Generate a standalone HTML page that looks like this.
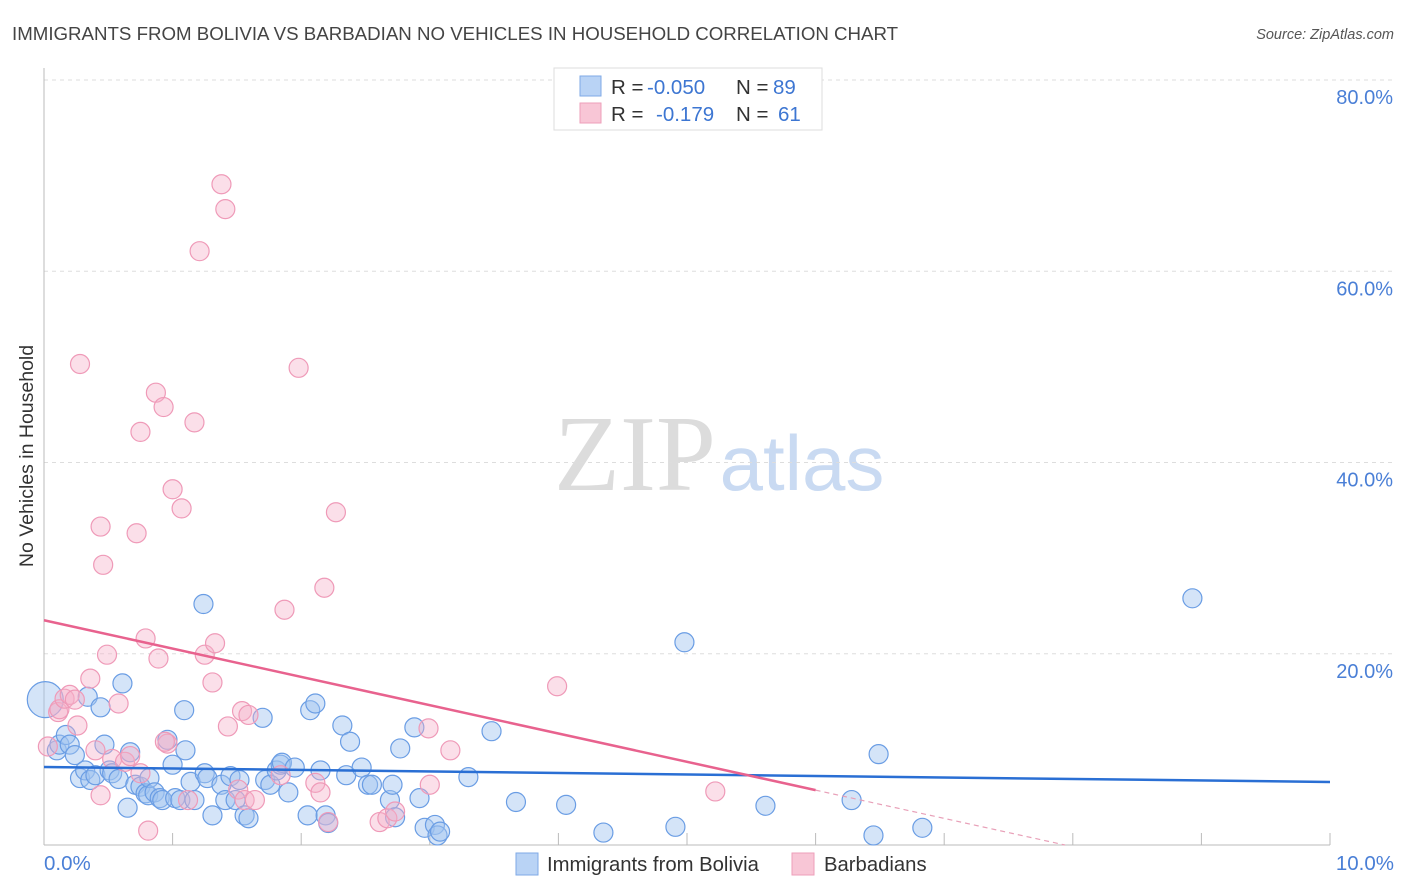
<!DOCTYPE html>
<html><head><meta charset="utf-8"><style>
body{margin:0;background:#fff;font-family:"Liberation Sans",sans-serif}
svg{display:block}
</style></head><body>
<svg id="c" width="1406" height="892" xmlns="http://www.w3.org/2000/svg">
<text x="12" y="40" font-size="18.7" fill="#444">IMMIGRANTS FROM BOLIVIA VS BARBADIAN NO VEHICLES IN HOUSEHOLD CORRELATION CHART</text>
<text x="1394" y="39" font-size="14.5" fill="#555" font-style="italic" text-anchor="end">Source: ZipAtlas.com</text>
<g>
<text x="635" y="490" font-size="108" font-family="Liberation Serif,serif" fill="#dcdcdc" text-anchor="middle">ZIP</text>
<text x="802" y="490" font-size="78" fill="#c9daf2" text-anchor="middle">atlas</text>
</g>
<g id="grid"></g>
<g id="axes"></g>
<g id="pts"></g>
<g id="lines"></g>
<text x="33" y="456" font-size="19.5" fill="#333" text-anchor="middle" transform="rotate(-90 33 456)">No Vehicles in Household</text>
<text x="44" y="870" font-size="20.5" fill="#4a7fd6">0.0%</text>
<text x="1394" y="870" font-size="20.5" fill="#4a7fd6" text-anchor="end">10.0%</text>
<g>
<rect x="554" y="68" width="268" height="62" fill="#fff" stroke="#ddd"/>
<rect x="580" y="76" width="21" height="20" fill="#b9d3f5" stroke="#7fa9e6"/>
<rect x="580" y="103" width="21" height="20" fill="#f8c6d6" stroke="#ee9fba"/>
<text x="611" y="94" font-size="20.5" fill="#333">R = <tspan x="647" fill="#3d76d2">-0.050</tspan><tspan x="736">N = </tspan><tspan x="773" fill="#3d76d2">89</tspan></text>
<text x="611" y="121" font-size="20.5" fill="#333">R = <tspan x="656" fill="#3d76d2">-0.179</tspan><tspan x="736">N = </tspan><tspan x="778" fill="#3d76d2">61</tspan></text>
</g>
<g>
<rect x="516" y="853" width="22" height="22" fill="#b9d3f5" stroke="#7fa9e6"/>
<text x="547" y="871" font-size="20.3" fill="#333">Immigrants from Bolivia</text>
</g>
<g>
<rect x="792" y="853" width="22" height="22" fill="#f8c6d6" stroke="#ee9fba"/>
<text x="824" y="871" font-size="20.3" fill="#333">Barbadians</text>
</g>
</svg>
<script>
const yTicks=[20,40,60,80];
const yTickLabels=["20.0%","40.0%","60.0%","80.0%"];
const xTicks=[1,2,3,4,5,6,7,8,9,10];
const blueX=[0.10,0.01,0.12,0.17,0.20,0.24,0.28,0.32,0.36,0.34,0.40,0.44,0.47,0.51,0.53,0.58,0.61,0.65,0.67,0.71,0.75,0.79,0.81,0.82,0.86,0.90,0.92,0.96,1.00,1.02,1.06,1.09,1.10,1.14,1.17,1.24,1.25,1.27,1.31,1.38,1.41,1.45,1.49,1.52,1.56,1.59,1.70,1.72,1.76,1.81,1.84,1.85,1.90,1.95,2.05,2.07,2.11,2.15,2.19,2.21,2.32,2.35,2.38,2.47,2.52,2.55,2.69,2.71,2.73,2.77,2.88,2.92,2.96,3.04,3.06,3.08,3.30,3.48,3.67,4.06,4.35,4.91,4.98,5.61,6.28,6.45,6.49,6.83,8.93];
const blueY=[9.9,15.2,10.5,11.5,10.5,9.4,7.0,7.8,6.8,15.5,7.3,14.4,10.5,7.8,7.5,6.9,16.9,3.9,9.7,6.3,6.1,5.4,5.2,7.0,5.5,4.9,4.7,11.0,8.4,4.9,4.7,14.1,9.9,6.6,4.7,25.2,7.5,7.0,3.1,6.3,4.7,7.2,4.7,6.8,3.1,2.8,13.3,6.8,6.3,7.8,8.4,8.6,5.5,8.1,3.1,14.1,14.8,7.8,3.1,2.3,12.5,7.3,10.8,8.1,6.3,6.3,4.7,6.3,2.9,10.1,12.3,4.9,1.8,2.1,1.0,1.4,7.1,11.9,4.5,4.2,1.3,1.9,21.2,4.1,4.7,1.0,9.5,1.8,25.8];
const pinkX=[0.28,0.44,0.46,0.49,0.72,0.75,0.79,0.87,0.89,0.93,1.00,1.07,1.17,1.25,1.31,1.33,1.38,1.41,1.21,1.43,1.54,1.59,1.87,1.98,2.18,2.27,0.11,0.12,0.16,0.20,0.24,0.26,0.03,0.36,0.40,0.53,0.58,0.63,0.67,0.81,0.96,1.12,1.51,1.56,1.64,1.84,2.11,2.15,2.21,2.61,2.67,2.73,2.99,3.00,3.16,3.99,5.22,0.94,0.75,0.44];
const pinkY=[50.3,33.3,29.3,19.9,32.6,43.2,21.6,47.3,19.5,45.8,37.2,35.2,44.2,19.9,17.0,21.1,69.1,66.5,62.1,12.4,14.0,13.6,24.6,49.9,26.9,34.8,13.9,14.2,15.3,15.7,15.2,12.5,10.3,17.4,9.9,9.0,14.8,8.7,9.3,1.5,10.6,4.7,5.8,4.7,4.7,7.3,6.5,5.5,2.4,2.4,2.8,3.5,12.2,6.3,9.9,16.6,5.6,10.8,7.5,5.2];
const blueLine=[8.16,6.59];
const pinkLine=[23.5,-2.96];
const svg=document.getElementById('c'),NS='http://www.w3.org/2000/svg';
const X=v=>44+v*128.6, Y=v=>845-v*9.5625;
function mk(t,a,p){const e=document.createElementNS(NS,t);for(const k in a)e.setAttribute(k,a[k]);p.appendChild(e);return e;}
const grid=document.getElementById('grid'),axes=document.getElementById('axes');
yTicks.forEach((v,i)=>{
 const l=mk('line',{x1:44,x2:1393,y1:Y(v),y2:Y(v),stroke:'#ddd','stroke-dasharray':'4 4'},grid);
 
 
 const t=mk('text',{x:1393,y:Y(v)+24,'font-size':20,fill:'#4a7fd6','text-anchor':'end'},grid);
 t.textContent=yTickLabels[i];
 
 
});
let a=mk('line',{x1:44,x2:44,y1:68,y2:845,stroke:'#bbb'},axes);


a=mk('line',{x1:44,x2:1330,y1:845,y2:845,stroke:'#bbb'},axes);


xTicks.forEach(v=>{
 const t=mk('line',{x1:X(v),x2:X(v),y1:833,y2:845,stroke:'#bbb'},axes);
 
 
});
const pts=document.getElementById('pts');
blueX.forEach((v,i)=>{
 const c=mk('circle',{cx:X(v),cy:Y(blueY[i]),r:i==1?18:9.5,fill:'rgba(160,196,240,0.45)',stroke:'#6a9de4','stroke-width':1.2},pts);
 
 
});
pinkX.forEach((v,i)=>{
 const c=mk('circle',{cx:X(v),cy:Y(pinkY[i]),r:9.5,fill:'rgba(246,175,200,0.4)',stroke:'#ef9ab8','stroke-width':1.2},pts);
 
 
});
const L=document.getElementById('lines');
let ln=mk('line',{x1:X(0),y1:Y(blueLine[0]),x2:X(10),y2:Y(blueLine[1]),stroke:'#2a6fd4','stroke-width':2.5},L);


const pf=x=>pinkLine[0]+pinkLine[1]*x, xe=-pinkLine[0]/pinkLine[1];
ln=mk('line',{x1:X(0),y1:Y(pf(0)),x2:X(6),y2:Y(pf(6)),stroke:'#e8628e','stroke-width':2.5},L);


ln=mk('line',{x1:X(6),y1:Y(pf(6)),x2:X(xe),y2:Y(0),stroke:'#e8a0b8','stroke-width':1.2,'stroke-dasharray':'5 4'},L);


</script>
</body></html>
